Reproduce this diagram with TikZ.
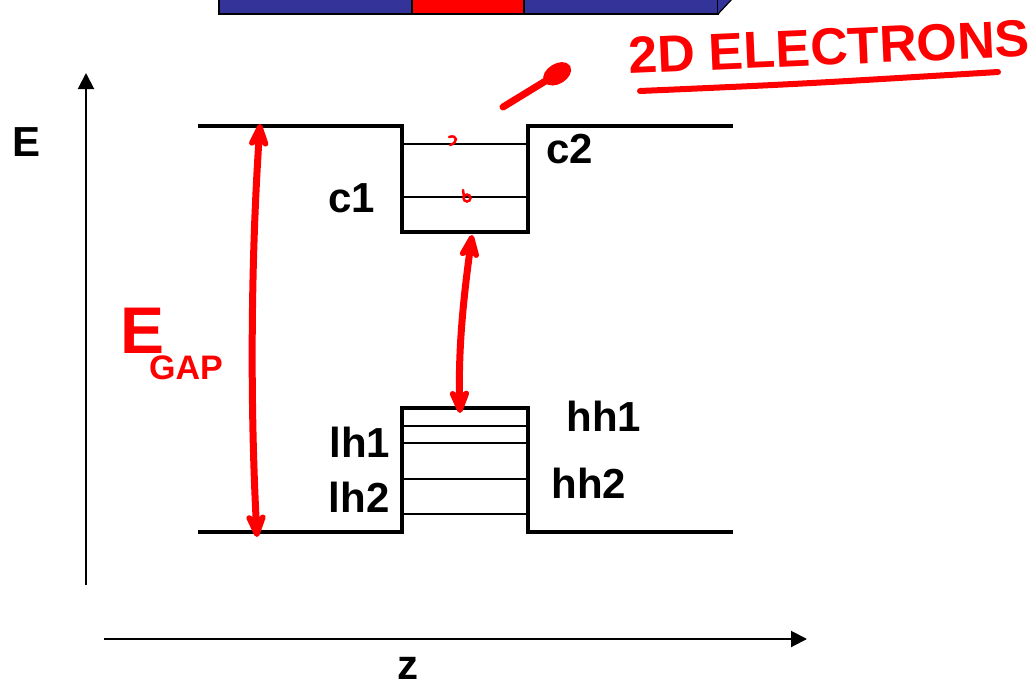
\documentclass[tikz,border=0pt]{standalone}
\usepackage{fontspec}
\setmainfont{Liberation Sans}
\usetikzlibrary{arrows.meta, positioning}
\newlength{\thk}
\setlength{\thk}{4pt}
\newlength{\thn}
\setlength{\thn}{1.6pt}
\definecolor{barblue}{rgb}{0.2, 0.2, 0.6}
\definecolor{barred}{rgb}{1.0, 0.0, 0.0}
\definecolor{inkred}{rgb}{1.0, 0.0, 0.0}
\tikzset{band/.style={draw=black, line width=\thk, line join=miter}}
\tikzset{level/.style={draw=black, line width=\thn}}
\tikzset{lbl/.style={font=\fontsize{42}{42}\selectfont\bfseries, inner sep=0pt}}
\tikzset{ink/.style={draw=inkred, line width=7pt, line cap=round, line join=round}}
\tikzset{inktext/.style={text=inkred, inner sep=0pt}}
\tikzset{axis/.style={draw=black, line width=2pt, -{Triangle[length=16pt,width=16pt]}}}
\tikzset{gaptip/.tip={Stealth[length=32pt,width=26pt,inset=10pt,round]}}

\begin{document}
\begin{tikzpicture}[x=1pt, y=-1pt]
	\useasboundingbox (0,0) rectangle (1031,686);
	
	%%% SHAPES %%%
	
	% SAMPLE BAR
	\draw[fill=barblue, line width=1.2pt] (219,-4) rectangle (412,14);
	\draw[fill=barred, line width=1.2pt] (412,-4) rectangle (524,14);
	\draw[fill=barblue, line width=1.2pt] (524,-4) rectangle (718,14);
	\draw[fill=barblue, line width=1.2pt] (718,14) -- (733,-2) -- (718,-2);
	
	% CONDUCTION BAND
	\draw[band] (198,126) -- (402,126) -- (402,232) -- (528,232) -- (528,126) -- (733,126);
	\draw[level] (402,144) -- (528,144);
	\draw[level] (402,197) -- (528,197);
	
	% VALENCE BAND
	\draw[band] (198,532) -- (402,532) -- (402,408) -- (528,408) -- (528,532) -- (733,532);
	\draw[level] (402,426) -- (528,426);
	\draw[level] (402,443) -- (528,443);
	\draw[level] (402,479) -- (528,479);
	\draw[level] (402,514) -- (528,514);
	
	%%% NODES %%%
	
	% AXES
	\coordinate (eaxisfoot) at (86,585);
	\coordinate (eaxishead) at (86,73);
	\coordinate (zaxisfoot) at (104,639);
	\coordinate (zaxishead) at (807,639);
	\node[lbl] at (27,142) (elabel) {E};
	\node[lbl] at (408,668) (zlabel) {z};
	
	% LEVEL LABELS
	\node[lbl] at (352,198) (cone) {c1};
	\node[lbl] at (570,149) (ctwo) {c2};
	\node[lbl] at (360,442) (lhone) {lh1};
	\node[lbl] at (359,497) (lhtwo) {lh2};
	\node[lbl] at (604,416) (hhone) {hh1};
	\node[lbl] at (589,483) (hhtwo) {hh2};
	
	% HANDWRITING
	\node[inktext, font=\fontsize{52}{52}\selectfont\bfseries, rotate=2.5] at (829,47) (twodlabel) {2D ELECTRONS};
	\node[inktext, font=\fontsize{66}{66}\selectfont\bfseries] at (143,331) (egapE) {E};
	\node[inktext, font=\fontsize{34}{34}\selectfont\bfseries] at (186,368) (egapsub) {GAP};
	
	%%% EXTRA ARROW NODES %%%
	\coordinate (gaptop) at (260,124);
	\coordinate (gapbot) at (257,537);
	\coordinate (welltop) at (472,235);
	\coordinate (wellbot) at (460,413);
	\coordinate (ulstart) at (640,91);
	\coordinate (ulend) at (998,72);
	\coordinate (pstart) at (503,107);
	\coordinate (pend) at (570,66);
	
	%%% ARROWS %%%
	
	% AXES
	\draw[axis] (eaxisfoot) -- (eaxishead);
	\draw[axis] (zaxisfoot) -- (zaxishead);
	
	% RED INK
	\draw[ink, {gaptip}-{gaptip}] (gapbot) .. controls (250,400) and (251,260) .. (gaptop);
	\draw[ink, {gaptip}-{gaptip}] (wellbot) .. controls (458,340) and (466,280) .. (welltop);
	\draw[ink, line width=6pt] (ulstart) .. controls (800,84) .. (ulend);
	\draw[ink, -{Ellipse[length=30pt,width=20pt]}] (pstart) -- (pend);
	\draw[inkred, line width=2.5pt, line cap=round] (449,137) .. controls (458,134) and (458,143) .. (450,145);
	\draw[inkred, line width=2.5pt] (467,198) circle (3.5);
	\draw[inkred, line width=2.5pt, line cap=round] (464,197) -- (463,190);
	
\end{tikzpicture}
\end{document}
